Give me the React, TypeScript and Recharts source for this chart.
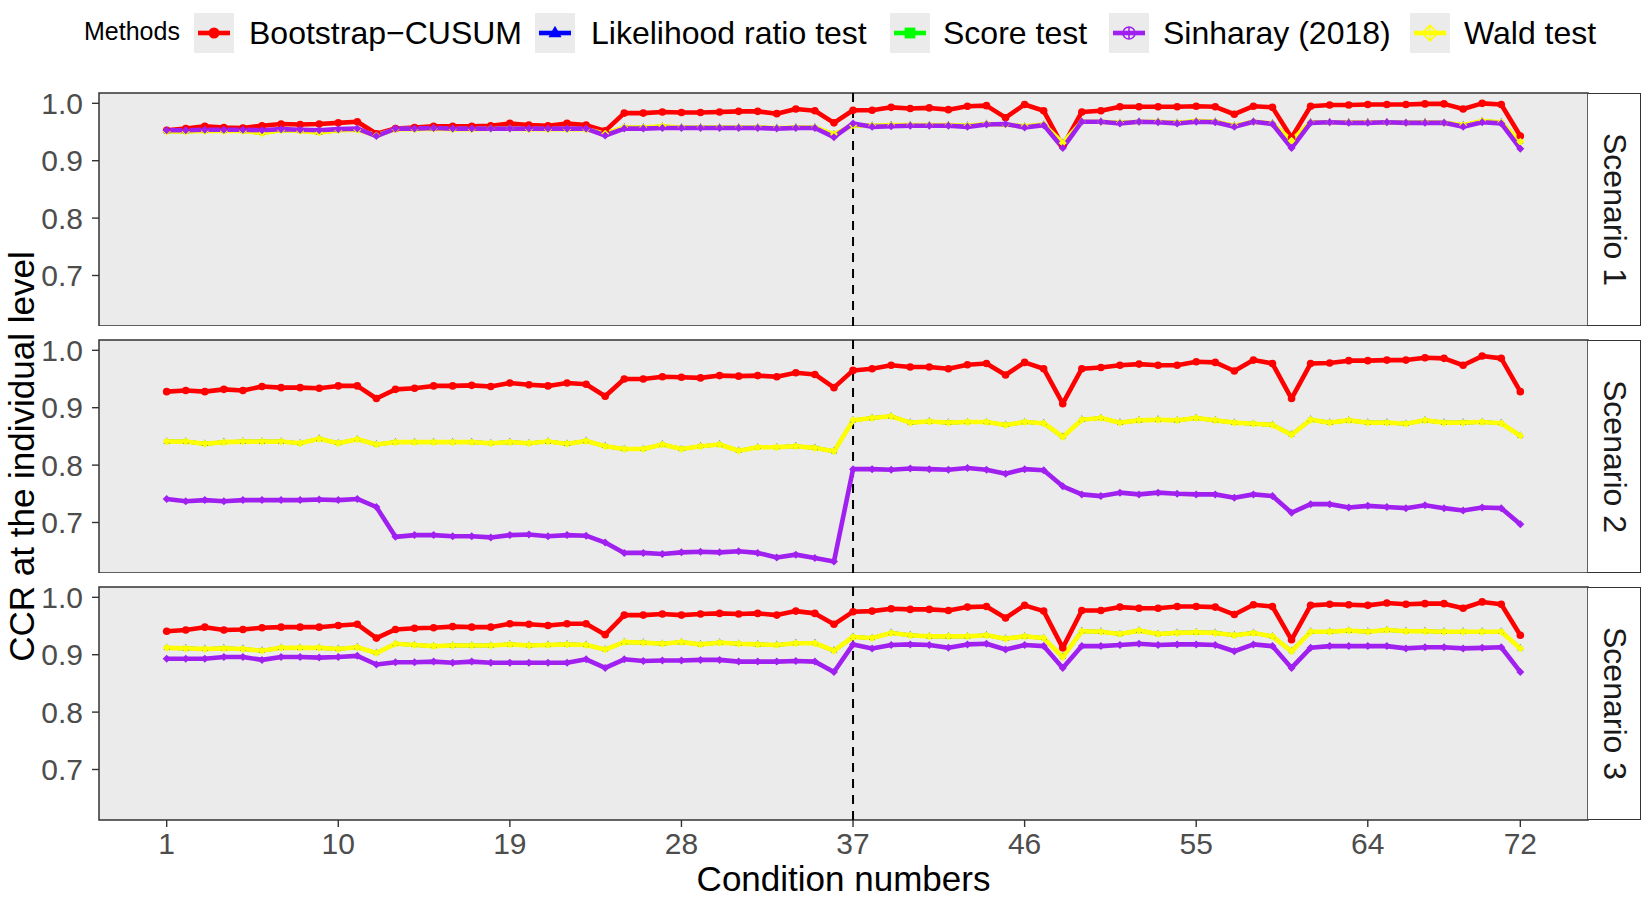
import React from "react";
import { LineChart, Line, XAxis, YAxis, CartesianGrid, ReferenceArea, ReferenceLine } from "recharts";

const conditions = Array.from({ length: 72 }, (_, i) => i + 1);
const xTicks = [1, 10, 19, 28, 37, 46, 55, 64, 72];
const yTicks = [0.7, 0.8, 0.9, 1.0];
const scenarios = ["Scenario 1", "Scenario 2", "Scenario 3"];

// Scenario 1
const s1Bootstrap = [
  0.953, 0.956, 0.960, 0.958, 0.957, 0.961, 0.964, 0.963, 0.964, 0.966, 0.968, 0.947,
  0.956, 0.958, 0.960, 0.960, 0.960, 0.961, 0.965, 0.962, 0.961, 0.965, 0.962, 0.952,
  0.983, 0.983, 0.985, 0.984, 0.984, 0.985, 0.986, 0.986, 0.982, 0.990, 0.987, 0.966,
  0.988, 0.988, 0.993, 0.991, 0.992, 0.989, 0.995, 0.996, 0.975, 0.998, 0.987, 0.925,
  0.985, 0.987, 0.994, 0.994, 0.994, 0.994, 0.995, 0.994, 0.981, 0.995, 0.993, 0.940,
  0.995, 0.997, 0.997, 0.998, 0.998, 0.998, 0.999, 0.999, 0.990, 1.000, 0.998, 0.943,
];
const s1Wald = [
  0.951, 0.951, 0.952, 0.952, 0.952, 0.948, 0.953, 0.952, 0.949, 0.953, 0.954, 0.944,
  0.955, 0.955, 0.956, 0.955, 0.955, 0.956, 0.956, 0.955, 0.955, 0.955, 0.955, 0.947,
  0.958, 0.958, 0.960, 0.958, 0.958, 0.958, 0.958, 0.958, 0.957, 0.958, 0.958, 0.946,
  0.962, 0.961, 0.962, 0.962, 0.962, 0.962, 0.961, 0.964, 0.963, 0.960, 0.963, 0.931,
  0.968, 0.968, 0.966, 0.968, 0.968, 0.966, 0.969, 0.968, 0.961, 0.968, 0.965, 0.935,
  0.967, 0.967, 0.967, 0.967, 0.967, 0.966, 0.967, 0.966, 0.962, 0.969, 0.967, 0.933,
];
const s1Sinharay = [
  0.953, 0.953, 0.954, 0.954, 0.954, 0.953, 0.955, 0.954, 0.953, 0.955, 0.956, 0.943,
  0.956, 0.956, 0.957, 0.956, 0.956, 0.956, 0.956, 0.956, 0.956, 0.956, 0.956, 0.944,
  0.956, 0.956, 0.957, 0.957, 0.957, 0.957, 0.957, 0.957, 0.956, 0.957, 0.957, 0.941,
  0.965, 0.959, 0.960, 0.961, 0.961, 0.961, 0.959, 0.963, 0.964, 0.958, 0.962, 0.922,
  0.968, 0.968, 0.965, 0.968, 0.967, 0.965, 0.968, 0.967, 0.959, 0.968, 0.964, 0.922,
  0.966, 0.967, 0.966, 0.966, 0.967, 0.966, 0.966, 0.966, 0.959, 0.967, 0.965, 0.921,
];

// Scenario 2
const s2Bootstrap = [
  0.928, 0.930, 0.928, 0.932, 0.930, 0.937, 0.935, 0.935, 0.934, 0.938, 0.938, 0.916,
  0.932, 0.934, 0.938, 0.938, 0.939, 0.937, 0.943, 0.940, 0.938, 0.943, 0.941, 0.920,
  0.950, 0.950, 0.954, 0.953, 0.952, 0.956, 0.955, 0.956, 0.954, 0.961, 0.958, 0.935,
  0.965, 0.968, 0.974, 0.971, 0.971, 0.968, 0.975, 0.977, 0.957, 0.979, 0.968, 0.907,
  0.968, 0.970, 0.974, 0.976, 0.974, 0.974, 0.980, 0.979, 0.964, 0.983, 0.977, 0.916,
  0.977, 0.978, 0.982, 0.982, 0.983, 0.983, 0.987, 0.986, 0.974, 0.990, 0.986, 0.928,
];
const s2Wald = [
  0.841, 0.841, 0.837, 0.840, 0.841, 0.841, 0.841, 0.838, 0.846, 0.838, 0.845, 0.836,
  0.840, 0.840, 0.840, 0.840, 0.840, 0.838, 0.840, 0.838, 0.841, 0.837, 0.842, 0.833,
  0.828, 0.828, 0.836, 0.828, 0.833, 0.836, 0.825, 0.831, 0.831, 0.833, 0.830, 0.824,
  0.878, 0.882, 0.885, 0.874, 0.876, 0.874, 0.875, 0.875, 0.870, 0.875, 0.873, 0.849,
  0.879, 0.882, 0.874, 0.878, 0.879, 0.878, 0.882, 0.878, 0.874, 0.872, 0.870, 0.853,
  0.879, 0.874, 0.878, 0.874, 0.874, 0.872, 0.878, 0.874, 0.874, 0.875, 0.873, 0.851,
];
const s2Sinharay = [
  0.741, 0.737, 0.739, 0.737, 0.739, 0.739, 0.739, 0.739, 0.740, 0.739, 0.741, 0.727,
  0.675, 0.678, 0.678, 0.676, 0.676, 0.674, 0.678, 0.679, 0.676, 0.678, 0.677, 0.665,
  0.647, 0.647, 0.645, 0.648, 0.649, 0.648, 0.650, 0.647, 0.639, 0.644, 0.638, 0.632,
  0.793, 0.793, 0.792, 0.794, 0.793, 0.792, 0.795, 0.792, 0.785, 0.793, 0.791, 0.763,
  0.749, 0.746, 0.752, 0.749, 0.752, 0.750, 0.749, 0.749, 0.743, 0.749, 0.746, 0.717,
  0.732, 0.732, 0.726, 0.729, 0.727, 0.725, 0.730, 0.725, 0.721, 0.726, 0.725, 0.697,
];

// Scenario 3
const s3Bootstrap = [
  0.941, 0.943, 0.948, 0.943, 0.944, 0.947, 0.948, 0.948, 0.948, 0.951, 0.953, 0.929,
  0.944, 0.946, 0.947, 0.949, 0.948, 0.948, 0.954, 0.953, 0.951, 0.954, 0.954, 0.935,
  0.969, 0.969, 0.971, 0.969, 0.971, 0.972, 0.971, 0.972, 0.969, 0.976, 0.972, 0.953,
  0.975, 0.976, 0.980, 0.979, 0.979, 0.977, 0.983, 0.984, 0.964, 0.986, 0.976, 0.912,
  0.977, 0.977, 0.983, 0.981, 0.981, 0.984, 0.984, 0.983, 0.970, 0.987, 0.984, 0.926,
  0.986, 0.988, 0.987, 0.986, 0.990, 0.988, 0.989, 0.989, 0.981, 0.992, 0.988, 0.934,
];
const s3Wald = [
  0.912, 0.911, 0.910, 0.911, 0.910, 0.907, 0.912, 0.912, 0.912, 0.910, 0.913, 0.903,
  0.919, 0.917, 0.915, 0.916, 0.916, 0.916, 0.918, 0.916, 0.917, 0.918, 0.917, 0.909,
  0.922, 0.921, 0.919, 0.922, 0.918, 0.921, 0.919, 0.918, 0.917, 0.920, 0.920, 0.907,
  0.931, 0.929, 0.938, 0.934, 0.932, 0.932, 0.932, 0.934, 0.928, 0.932, 0.929, 0.896,
  0.941, 0.940, 0.936, 0.942, 0.936, 0.938, 0.939, 0.938, 0.934, 0.938, 0.932, 0.906,
  0.940, 0.940, 0.942, 0.940, 0.943, 0.941, 0.941, 0.940, 0.940, 0.940, 0.940, 0.911,
];
const s3Sinharay = [
  0.893, 0.893, 0.893, 0.896, 0.896, 0.891, 0.896, 0.896, 0.895, 0.896, 0.898, 0.883,
  0.887, 0.887, 0.888, 0.886, 0.888, 0.886, 0.886, 0.886, 0.886, 0.886, 0.892, 0.877,
  0.892, 0.889, 0.890, 0.890, 0.891, 0.891, 0.888, 0.888, 0.888, 0.889, 0.888, 0.870,
  0.918, 0.911, 0.917, 0.918, 0.917, 0.912, 0.918, 0.919, 0.909, 0.917, 0.915, 0.877,
  0.915, 0.915, 0.917, 0.919, 0.917, 0.918, 0.918, 0.917, 0.906, 0.918, 0.915, 0.877,
  0.912, 0.915, 0.915, 0.915, 0.915, 0.911, 0.913, 0.913, 0.911, 0.912, 0.913, 0.870,
];

// LRT and score test lie under the Wald line in every scenario
const s1Lrt = s1Wald, s1Score = s1Wald;
const s2Lrt = s2Wald, s2Score = s2Wald;
const s3Lrt = s3Wald, s3Score = s3Wald;

const panelData = [
  { boot: s1Bootstrap, lrt: s1Lrt, score: s1Score, sinh: s1Sinharay, wald: s1Wald },
  { boot: s2Bootstrap, lrt: s2Lrt, score: s2Score, sinh: s2Sinharay, wald: s2Wald },
  { boot: s3Bootstrap, lrt: s3Lrt, score: s3Score, sinh: s3Sinharay, wald: s3Wald },
];

const COLORS = { boot: "#FF0000", lrt: "#0000FF", score: "#00FF00", sinh: "#A020F0", wald: "#FFFF00" };
const LEGEND = [
  { key: "boot", label: "Bootstrap\u2212CUSUM", keyX: 194, textX: 249 },
  { key: "lrt", label: "Likelihood ratio test", keyX: 535, textX: 591 },
  { key: "score", label: "Score test", keyX: 890, textX: 943 },
  { key: "sinh", label: "Sinharay (2018)", keyX: 1109, textX: 1163 },
  { key: "wald", label: "Wald test", keyX: 1410, textX: 1464 },
];

const W = 1643;
const PANEL_LEFT = 99;
const PANEL_RIGHT = 1588;
const PANEL_H = 233;
const PAD = 20; // room above each panel so the top tick label is not clipped
const PANEL_TOPS = [92.5, 339.6, 586.7];
const X_DOMAIN: [number, number] = [-2.55, 75.55];
const Y_DOMAIN: [number, number] = [0.612, 1.018];
const FONT = "'Liberation Sans', Arial, Helvetica, sans-serif";

// legend glyphs (open shapes for Sinharay / Wald, like ggplot shapes 10 and 9)
function marker(kind: string, cx: number, cy: number, r: number, k?: any) {
  const c = (COLORS as any)[kind];
  if (cx == null || cy == null) return <g key={k} />;
  if (kind === "boot") return <circle key={k} cx={cx} cy={cy} r={r} fill={c} />;
  if (kind === "lrt")
    return <polygon key={k} points={`${cx},${cy - r * 1.2} ${cx - r * 1.1},${cy + r * 0.7} ${cx + r * 1.1},${cy + r * 0.7}`} fill={c} />;
  if (kind === "score") return <rect key={k} x={cx - r * 0.9} y={cy - r * 0.9} width={r * 1.8} height={r * 1.8} fill={c} />;
  if (kind === "sinh")
    return (
      <g key={k} stroke={c} strokeWidth={1.6} fill="none">
        <circle cx={cx} cy={cy} r={r} />
        <line x1={cx - r} y1={cy} x2={cx + r} y2={cy} />
        <line x1={cx} y1={cy - r} x2={cx} y2={cy + r} />
      </g>
    );
  return (
    <g key={k} stroke={c} strokeWidth={1.6} fill="none">
      <polygon points={`${cx},${cy - r * 1.3} ${cx + r * 1.3},${cy} ${cx},${cy + r * 1.3} ${cx - r * 1.3},${cy}`} />
      <line x1={cx - r * 1.3} y1={cy} x2={cx + r * 1.3} y2={cy} />
      <line x1={cx} y1={cy - r * 1.3} x2={cx} y2={cy + r * 1.3} />
    </g>
  );
}

// the small points on the lines, which mostly merge into the thick line
function dotMark(kind: string, cx: number, cy: number, k: string) {
  const c = (COLORS as any)[kind];
  if (cx == null || cy == null) return <g key={k} />;
  if (kind === "lrt")
    return <polygon key={k} points={`${cx},${cy - 4.4} ${cx - 3},${cy + 1.8} ${cx + 3},${cy + 1.8}`} fill={c} />;
  if (kind === "score") return <rect key={k} x={cx - 2.2} y={cy - 2.2} width={4.4} height={4.4} fill={c} />;
  if (kind === "sinh" || kind === "wald")
    return <polygon key={k} points={`${cx},${cy - 4} ${cx + 4},${cy} ${cx},${cy + 4} ${cx - 4},${cy}`} fill={c} />;
  return <circle key={k} cx={cx} cy={cy} r={3.8} fill={c} />;
}

function Panel({ index }: { index: number }) {
  const d = panelData[index];
  const rows = conditions.map((x, i) => ({
    x,
    boot: d.boot[i],
    lrt: d.lrt[i],
    score: d.score[i],
    sinh: d.sinh[i],
    wald: d.wald[i],
  }));
  const showX = index === 2;
  const order = ["boot", "lrt", "score", "wald", "sinh"];
  return (
    <div style={{ position: "absolute", left: 0, top: PANEL_TOPS[index] - PAD }}>
      <LineChart
        width={W}
        height={PAD + (showX ? PANEL_H + 60 : PANEL_H)}
        data={rows}
        margin={{ top: PAD, right: W - PANEL_RIGHT, bottom: 0, left: 0 }}
      >
        <CartesianGrid fill="#EBEBEB" horizontal={false} vertical={false} />
        <XAxis
          dataKey="x"
          type="number"
          domain={X_DOMAIN}
          allowDataOverflow
          ticks={xTicks}
          hide={!showX}
          height={60}
          axisLine={false}
          tickSize={7}
          tickMargin={6}
          tickLine={{ stroke: "#333333", strokeWidth: 1.4 }}
          tick={{ fill: "#4D4D4D", fontSize: 30, fontFamily: FONT }}
          interval={0}
        />
        <YAxis
          type="number"
          domain={Y_DOMAIN}
          allowDataOverflow
          ticks={yTicks}
          width={PANEL_LEFT}
          axisLine={false}
          tickSize={7}
          tickMargin={9}
          tickLine={{ stroke: "#333333", strokeWidth: 1.4 }}
          tick={{ fill: "#4D4D4D", fontSize: 30, fontFamily: FONT }}
          tickFormatter={(v: number) => v.toFixed(1)}
          interval={0}
        />
        <ReferenceLine x={37} stroke="#000000" strokeWidth={2} strokeDasharray="9 7" />
        {order.map((k) => (
          <Line
            key={k}
            dataKey={k}
            type="linear"
            stroke={(COLORS as any)[k]}
            strokeWidth={k === "lrt" || k === "score" ? 3.6 : 4.6}
            strokeLinejoin="round"
            dot={(p: any) => dotMark(k, p.cx, p.cy, `${k}-${p.index}`)}
            activeDot={false}
            isAnimationActive={false}
          />
        ))}
        <ReferenceArea
          x1={X_DOMAIN[0]}
          x2={X_DOMAIN[1]}
          y1={Y_DOMAIN[0]}
          y2={Y_DOMAIN[1]}
          fill="none"
          stroke="#333333"
          strokeWidth={1.5}
          ifOverflow="visible"
        />
      </LineChart>
    </div>
  );
}

function LegendKey({ kind }: { kind: string }) {
  return (
    <svg width={40} height={40} style={{ display: "block" }}>
      <rect x={0} y={0} width={40} height={40} fill="#EBEBEB" />
      <line x1={4} y1={20} x2={36} y2={20} stroke={(COLORS as any)[kind]} strokeWidth={4.6} />
      {marker(kind, 20, 20, kind === "boot" ? 5.5 : 6)}
    </svg>
  );
}

export default function App() {
  return (
    <div
      style={{
        position: "absolute",
        left: 0,
        top: 0,
        width: W,
        height: 898,
        background: "#FFFFFF",
        fontFamily: FONT,
        overflow: "hidden",
      }}
    >
      {/* legend */}
      <div style={{ position: "absolute", left: 84, top: 19, fontSize: 25, lineHeight: "25px", color: "#000" }}>Methods</div>
      {LEGEND.map((l) => (
        <React.Fragment key={l.key}>
          <div style={{ position: "absolute", left: l.keyX, top: 13 }}>
            <LegendKey kind={l.key} />
          </div>
          <div style={{ position: "absolute", left: l.textX, top: 17, fontSize: 32, lineHeight: "32px", color: "#000", whiteSpace: "nowrap" }}>
            {l.label}
          </div>
        </React.Fragment>
      ))}

      {scenarios.map((s, i) => (
        <Panel key={s} index={i} />
      ))}

      {/* facet strips */}
      {scenarios.map((s, i) => (
        <div
          key={s}
          style={{
            position: "absolute",
            left: PANEL_RIGHT,
            top: PANEL_TOPS[i],
            width: 53,
            height: PANEL_H,
            boxSizing: "border-box",
            border: "1.5px solid #333333",
            borderLeft: "none",
            background: "#FFFFFF",
            display: "flex",
            alignItems: "center",
            justifyContent: "center",
          }}
        >
          <span style={{ writingMode: "vertical-rl", fontSize: 32, color: "#1A1A1A", whiteSpace: "nowrap" }}>{s}</span>
        </div>
      ))}

      {/* axis titles */}
      <div
        style={{
          position: "absolute",
          left: 20.5 - 350,
          top: 456 - 17.5,
          width: 700,
          height: 35,
          lineHeight: "35px",
          fontSize: 35,
          textAlign: "center",
          transform: "rotate(-90deg)",
          color: "#000",
          whiteSpace: "nowrap",
        }}
      >
        CCR at the individual level
      </div>
      <div
        style={{
          position: "absolute",
          left: (PANEL_LEFT + PANEL_RIGHT) / 2 - 300,
          top: 861,
          width: 600,
          height: 35,
          lineHeight: "35px",
          fontSize: 35,
          textAlign: "center",
          color: "#000",
        }}
      >
        Condition numbers
      </div>
    </div>
  );
}
